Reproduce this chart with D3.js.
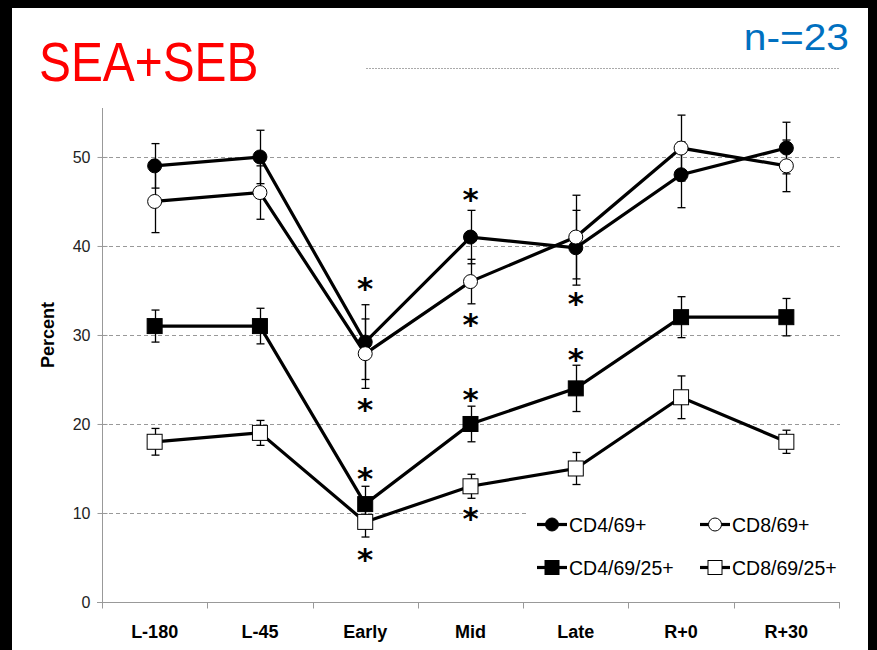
<!DOCTYPE html>
<html>
<head>
<meta charset="utf-8">
<script src="https://d3js.org/d3.v7.min.js"></script>
<style>
  body { margin: 0; background: #000; }
  svg { display: block; }
</style>
</head>
<body>
<script>
// time points on the x axis
var categories = ["L-180", "L-45", "Early", "Mid", "Late", "R+0", "R+30"];
var yTicks = [0, 10, 20, 30, 40, 50];

// means and error bar half-widths
var cd4_69 = [49, 50, 29.2, 41, 39.8, 48, 51];
var cd4_69Err = [2.5, 3, 4.2, 3, 4.2, 3.7, 2.9];
var cd8_69 = [45, 46, 27.9, 36, 41, 51, 49];
var cd8_69Err = [3.5, 3, 3.9, 2.5, 4.7, 3.7, 2.9];
var cd4_69_25 = [31, 31, 11, 20, 24, 32, 32];
var cd4_69_25Err = [1.8, 2, 2, 2, 2.6, 2.3, 2.1];
var cd8_69_25 = [18, 19, 9, 13, 15, 23, 18];
var cd8_69_25Err = [1.5, 1.4, 1.7, 1.35, 1.8, 2.4, 1.3];

// significance asterisks: time point and the percent level they sit at
var sigCats = ["Early", "Early", "Early", "Early", "Mid", "Mid", "Mid", "Mid", "Late", "Late"];
var sigLevels = [36.0, 22.4, 14.6, 5.5, 46.0, 31.9, 23.5, 10.1, 34.3, 28.0];

var seriesNames = ["CD4/69+", "CD8/69+", "CD4/69/25+", "CD8/69/25+"];
var series = [
  {name: seriesNames[0], values: cd4_69, err: cd4_69Err, shape: "circle", fill: "#000"},
  {name: seriesNames[1], values: cd8_69, err: cd8_69Err, shape: "circle", fill: "#fff"},
  {name: seriesNames[2], values: cd4_69_25, err: cd4_69_25Err, shape: "square", fill: "#000"},
  {name: seriesNames[3], values: cd8_69_25, err: cd8_69_25Err, shape: "square", fill: "#fff"}
];

var width = 877, height = 650;
var font = "'Liberation Sans', Arial, sans-serif";

var svg = d3.select("body").append("svg")
    .attr("width", width)
    .attr("height", height);

// black frame with white slide area
svg.append("rect").attr("width", width).attr("height", height).attr("fill", "#000");
svg.append("rect").attr("x", 12).attr("y", 8).attr("width", 856).attr("height", 642).attr("fill", "#fff");

var x = d3.scaleBand().domain(categories).range([102, 839]);
var y = d3.scaleLinear().domain([0, 55.5]).range([602, 108]);

// headings (Calibri-like narrowing)
svg.append("text")
    .attr("transform", "translate(39,81) scale(0.87,1)")
    .attr("font-family", font).attr("font-size", 55)
    .attr("fill", "#ff0000")
    .text("SEA+SEB");
svg.append("text")
    .attr("transform", "translate(849,50) scale(1.1,1)")
    .attr("text-anchor", "end")
    .attr("font-family", font).attr("font-size", 37)
    .attr("fill", "#0070c0")
    .text("n-=23");
svg.append("line")
    .attr("x1", 366).attr("x2", 840).attr("y1", 68.5).attr("y2", 68.5)
    .attr("stroke", "#aaa").attr("stroke-dasharray", "2,1");

// gridlines
svg.append("g").selectAll("line")
    .data(yTicks.filter(function(d) { return d > 0; }))
    .enter().append("line")
    .attr("x1", 102).attr("x2", 840)
    .attr("y1", function(d) { return Math.round(y(d)) + 0.5; })
    .attr("y2", function(d) { return Math.round(y(d)) + 0.5; })
    .attr("stroke", "#999").attr("stroke-dasharray", "4,3");

// y axis, ticks crossing the axis line
var yAxis = d3.axisLeft(y).tickValues(yTicks).tickSize(5).tickPadding(7);
var gy = svg.append("g").attr("transform", "translate(102.5,0)").call(yAxis);
gy.select(".domain").attr("stroke", "#999").attr("d", "M0,602V108");
gy.selectAll(".tick line").attr("stroke", "#999").attr("x1", 5).attr("x2", -5);
gy.selectAll("text").attr("font-family", font).attr("font-size", 16).attr("fill", "#222");

// x axis
var gx = svg.append("g").attr("transform", "translate(0,602.5)");
gx.append("line").attr("x1", 97).attr("x2", 840).attr("stroke", "#999");
gx.selectAll(".tk")
    .data(categories.concat(["end"]))
    .enter().append("line")
    .attr("class", "tk")
    .attr("x1", function(d, i) { return Math.round(102 + i * x.bandwidth()) + 0.5; })
    .attr("x2", function(d, i) { return Math.round(102 + i * x.bandwidth()) + 0.5; })
    .attr("y1", 0).attr("y2", 6)
    .attr("stroke", "#999");
gx.selectAll(".lbl")
    .data(categories)
    .enter().append("text")
    .attr("class", "lbl")
    .attr("x", function(d) { return x(d) + x.bandwidth() / 2; })
    .attr("y", 35)
    .attr("text-anchor", "middle")
    .attr("font-family", font).attr("font-size", 18).attr("font-weight", "bold")
    .text(function(d) { return d; });

svg.append("text")
    .attr("transform", "translate(54,335) rotate(-90) scale(0.95,1)")
    .attr("text-anchor", "middle")
    .attr("font-family", font).attr("font-size", 19).attr("font-weight", "bold")
    .text("Percent");

function cx(i) { return x(categories[i]) + x.bandwidth() / 2; }

var line = d3.line()
    .x(function(d, i) { return cx(i); })
    .y(function(d) { return y(d); });

// connecting lines
svg.append("g").selectAll("path")
    .data(series)
    .enter().append("path")
    .attr("d", function(s) { return line(s.values); })
    .attr("fill", "none").attr("stroke", "#000").attr("stroke-width", 3.2);

// error bars
series.forEach(function(s) {
  var g = svg.append("g").attr("stroke", "#000").attr("stroke-width", 1.3);
  s.values.forEach(function(v, i) {
    var xx = Math.round(cx(i)) + 0.5;
    var top = y(v + s.err[i]), bot = y(v - s.err[i]);
    g.append("line").attr("x1", xx).attr("x2", xx).attr("y1", top).attr("y2", bot);
    g.append("line").attr("x1", xx - 4).attr("x2", xx + 4).attr("y1", top).attr("y2", top);
    g.append("line").attr("x1", xx - 4).attr("x2", xx + 4).attr("y1", bot).attr("y2", bot);
  });
});

function drawMarker(g, shape, fill, px, py, r) {
  if (shape === "circle") {
    g.append("circle").attr("cx", px).attr("cy", py).attr("r", r)
        .attr("fill", fill).attr("stroke", "#000").attr("stroke-width", 1);
  } else {
    g.append("rect").attr("x", px - r - 0.5).attr("y", py - r - 0.5).attr("width", 2 * r + 1).attr("height", 2 * r + 1)
        .attr("fill", fill).attr("stroke", "#000").attr("stroke-width", 1);
  }
}

// markers
series.forEach(function(s) {
  var g = svg.append("g");
  s.values.forEach(function(v, i) { drawMarker(g, s.shape, s.fill, cx(i), y(v), 7); });
});

// asterisks
var astSize = 31;
svg.append("g").selectAll("text")
    .data(sigLevels)
    .enter().append("text")
    .attr("x", function(d, i) { return x(sigCats[i]) + x.bandwidth() / 2; })
    .attr("y", function(d) { return y(d) + astSize * 0.55; })
    .attr("text-anchor", "middle")
    .attr("font-family", "'DejaVu Sans', sans-serif").attr("font-size", astSize).attr("font-weight", "bold")
    .text("*");

// legend
var legend = svg.append("g");
legend.append("rect").attr("x", 527).attr("y", 506).attr("width", 320).attr("height", 84).attr("fill", "#fff");
var legendItems = legend.selectAll(".item")
    .data(series)
    .enter().append("g")
    .attr("class", "item")
    .attr("transform", function(d, i) {
      return "translate(" + (i % 2 === 0 ? 537 : 700) + "," + (i < 2 ? 524.5 : 567.5) + ")";
    });
legendItems.append("line")
    .attr("x1", 0).attr("x2", 30)
    .attr("stroke", "#000").attr("stroke-width", 3.2);
legendItems.each(function(s) { drawMarker(d3.select(this), s.shape, s.fill, 15, 0, 6.5); });
legendItems.append("text")
    .attr("x", 32).attr("y", 7)
    .attr("font-family", font).attr("font-size", 19.5)
    .text(function(d) { return d.name; });
</script>
</body>
</html>
